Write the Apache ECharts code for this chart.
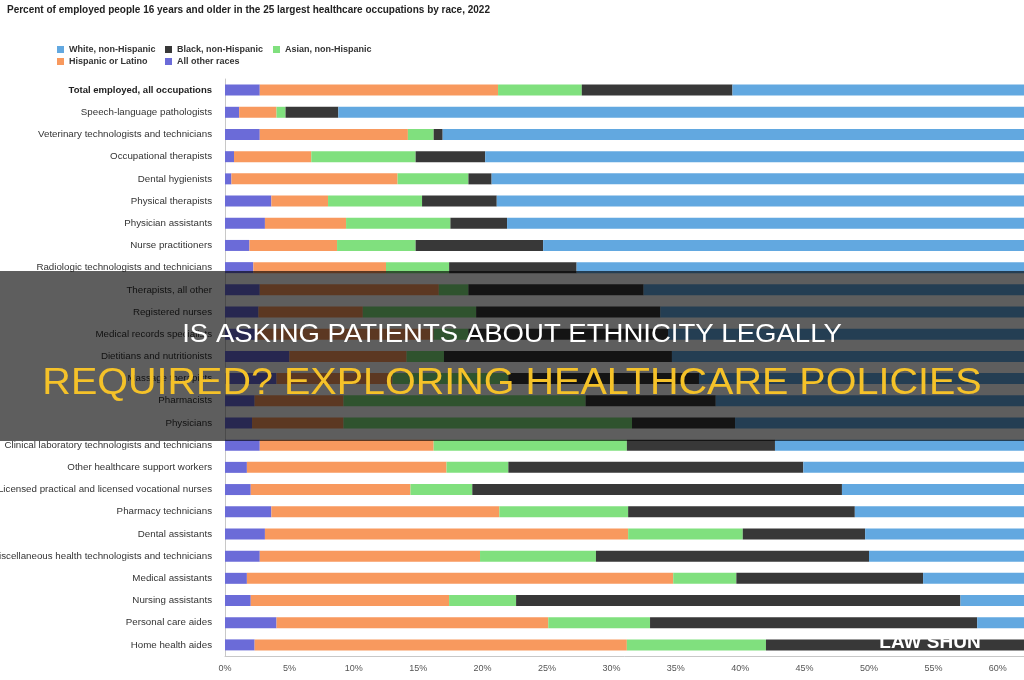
<!DOCTYPE html>
<html>
<head>
    <meta charset="UTF-8">
    <title>Healthcare occupations by race, 2022</title>
    <script src="https://cdn.jsdelivr.net/npm/echarts@6/dist/echarts.min.js"></script>
    <style>
        html, body { margin: 0; padding: 0; background: #fff; }
        #main { width: 1024px; height: 680px; }
    </style>
</head>
<body>
<div id="main"></div>
<script type="text/javascript">
    // categories, top to bottom
    var categories = [
        'Total employed, all occupations',
        'Speech-language pathologists',
        'Veterinary technologists and technicians',
        'Occupational therapists',
        'Dental hygienists',
        'Physical therapists',
        'Physician assistants',
        'Nurse practitioners',
        'Radiologic technologists and technicians',
        'Therapists, all other',
        'Registered nurses',
        'Medical records specialists',
        'Dietitians and nutritionists',
        'Massage therapists',
        'Pharmacists',
        'Physicians',
        'Clinical laboratory technologists and technicians',
        'Other healthcare support workers',
        'Licensed practical and licensed vocational nurses',
        'Pharmacy technicians',
        'Dental assistants',
        'Miscellaneous health technologists and technicians',
        'Medical assistants',
        'Nursing assistants',
        'Personal care aides',
        'Home health aides'
    ];

    // percent shares
    var otherRaces = [2.7, 1.1, 2.7, 0.7, 0.5, 3.6, 3.1, 1.9, 2.2, 2.7, 2.6, 2.5, 5.0, 4.0, 2.3, 2.1, 2.7, 1.7, 2.0, 3.6, 3.1, 2.7, 1.7, 2.0, 4.0, 2.3];
    var hispanic = [18.5, 2.9, 11.5, 6.0, 12.9, 4.4, 6.3, 6.8, 10.3, 13.9, 8.1, 13.7, 9.1, 9.0, 6.9, 7.1, 13.5, 15.5, 12.4, 17.7, 28.2, 17.1, 33.1, 15.4, 21.1, 28.9];
    var asian = [6.5, 0.7, 2.0, 8.1, 5.5, 7.3, 8.1, 6.1, 4.9, 2.3, 8.8, 2.7, 2.9, 9.0, 18.8, 22.4, 15.0, 4.8, 4.8, 10.0, 8.9, 9.0, 4.9, 5.2, 7.9, 10.8];
    var black = [11.7, 4.1, 0.7, 5.4, 1.8, 5.8, 4.4, 9.9, 9.9, 13.6, 14.3, 15.5, 17.7, 14.8, 10.1, 8.0, 11.5, 22.9, 28.7, 17.6, 9.5, 21.2, 14.5, 34.5, 25.4, 22.0];
    var white = [60.6, 91.2, 83.1, 79.8, 79.3, 78.9, 78.1, 75.3, 72.7, 67.5, 66.2, 65.6, 65.3, 63.2, 61.9, 60.4, 57.3, 55.1, 52.1, 51.1, 50.3, 50.0, 45.8, 42.9, 41.6, 36.0];

    var colors = {
        white: '#62a8e0',
        black: '#383838',
        asian: '#80e07e',
        hispanic: '#f8995e',
        other: '#6b6bd8'
    };

    var font = '"Liberation Sans", Arial, sans-serif';

    function mkSeries(name, data, color) {
        return {
            name: name,
            type: 'bar',
            stack: 'race',
            data: data,
            barWidth: 11,
            itemStyle: {color: color},
            emphasis: {disabled: true}
        };
    }

    function mkLegend(name, left, top) {
        return {
            data: [name],
            left: left,
            top: top,
            itemWidth: 7,
            itemHeight: 7,
            icon: 'rect',
            padding: 0,
            textStyle: {fontSize: 9, fontWeight: 'bold', color: '#333', fontFamily: font}
        };
    }

    var chart = echarts.init(document.getElementById('main'));
    chart.setOption({
        animation: false,
        title: {
            text: 'Percent of employed people 16 years and older in the 25 largest healthcare occupations by race, 2022',
            left: 7,
            top: 5,
            padding: 0,
            textStyle: {fontSize: 10, fontWeight: 'bold', color: '#222', fontFamily: font}
        },
        legend: [
            mkLegend('White, non-Hispanic', 57, 45),
            mkLegend('Black, non-Hispanic', 165, 45),
            mkLegend('Asian, non-Hispanic', 273, 45),
            mkLegend('Hispanic or Latino', 57, 57),
            mkLegend('All other races', 165, 57)
        ],
        // the reference is cropped on the right: the 0-100% axis runs past the canvas
        grid: {left: 225, top: 79, width: 1288, height: 577, containLabel: false, outerBoundsMode: 'none'},
        xAxis: {
            type: 'value',
            min: 0,
            max: 100,
            interval: 5,
            axisLine: {show: true, lineStyle: {color: '#c8c8c8'}},
            axisTick: {show: false},
            splitLine: {show: false},
            axisLabel: {formatter: '{value}%', fontSize: 9, color: '#555', margin: 8, fontFamily: font}
        },
        yAxis: {
            type: 'category',
            data: categories,
            inverse: true,
            axisLine: {show: true, lineStyle: {color: '#c8c8c8'}},
            axisTick: {show: false},
            axisLabel: {
                fontSize: 9.75,
                color: '#333',
                margin: 13,
                fontFamily: font,
                formatter: function (v) {
                    return v === categories[0] ? '{b|' + v + '}' : v;
                },
                rich: {b: {fontWeight: 'bold', fontSize: 9.5, color: '#222', fontFamily: font}}
            }
        },
        series: [
            mkSeries('All other races', otherRaces, colors.other),
            mkSeries('Hispanic or Latino', hispanic, colors.hispanic),
            mkSeries('Asian, non-Hispanic', asian, colors.asian),
            mkSeries('Black, non-Hispanic', black, colors.black),
            mkSeries('White, non-Hispanic', white, colors.white)
        ],
        graphic: [
            {
                type: 'rect',
                z: 100,
                shape: {x: 0, y: 271, width: 1024, height: 170},
                style: {fill: 'rgba(0,0,0,0.63)'}
            },
            {
                type: 'text',
                z: 101,
                x: 512,
                y: 335,
                scaleX: 1.08,
                style: {
                    text: 'IS ASKING PATIENTS ABOUT ETHNICITY LEGALLY',
                    fill: '#ffffff',
                    font: '25.5px "Liberation Sans", Arial, sans-serif',
                    textAlign: 'center',
                    textVerticalAlign: 'middle'
                }
            },
            {
                type: 'text',
                z: 101,
                x: 512,
                y: 384,
                scaleX: 1.054,
                style: {
                    text: 'REQUIRED? EXPLORING HEALTHCARE POLICIES',
                    fill: '#f5c229',
                    font: '37.5px "Liberation Sans", Arial, sans-serif',
                    textAlign: 'center',
                    textVerticalAlign: 'middle'
                }
            },
            {
                type: 'text',
                z: 101,
                x: 930,
                y: 633,
                style: {
                    text: 'LAW SHUN',
                    fill: '#ffffff',
                    font: 'bold 19px "Liberation Sans", Arial, sans-serif',
                    textAlign: 'center',
                    textVerticalAlign: 'top'
                }
            }
        ]
    });
</script>
</body>
</html>
